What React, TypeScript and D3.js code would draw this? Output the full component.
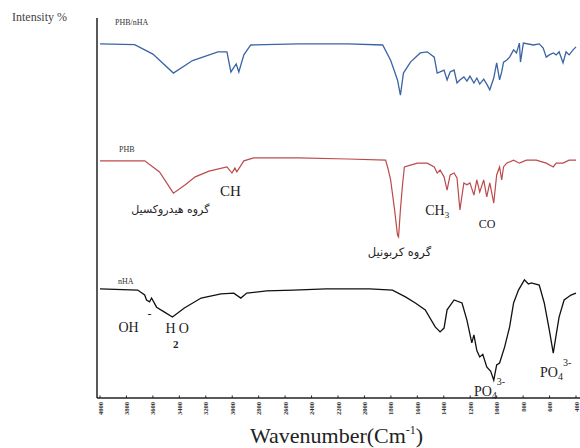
import React from "react";
import * as d3 from "d3";

// FTIR spectra, [wavenumber cm-1, intensity %] (stacked scale)
const phbNha: [number, number][] = [
  [4000, 93.2], [3738, 93.0], [3600, 90.5], [3445, 85.5], [3300, 88.8], [3108, 91.1], [3040, 91.1],
  [3010, 85.8], [2970, 87.9], [2950, 85.8], [2912, 90.3], [2860, 92.9], [2500, 93.2], [2125, 93.2],
  [1862, 92.9], [1802, 88.9], [1750, 83.7], [1728, 79.7], [1705, 85.5], [1652, 88.4], [1578, 90.8],
  [1525, 91.1], [1472, 89.7], [1450, 85.5], [1428, 85.8], [1398, 86.3], [1375, 83.7], [1352, 85.8],
  [1322, 86.3], [1300, 82.9], [1278, 83.7], [1248, 84.5], [1225, 83.4], [1202, 84.7], [1172, 82.9],
  [1150, 84.2], [1128, 82.6], [1098, 83.9], [1075, 82.6], [1052, 81.1], [1022, 84.2], [1000, 88.2],
  [978, 83.7], [962, 85.8], [948, 88.4], [925, 88.9], [902, 89.7], [872, 91.6], [850, 90.8],
  [828, 93.4], [820, 88.4], [798, 93.4], [722, 92.9], [678, 93.2], [648, 92.1], [625, 89.7],
  [602, 90.3], [572, 90.8], [550, 90.3], [528, 91.1], [498, 88.2], [475, 91.1], [452, 90.3],
  [422, 91.6], [400, 92.4],
];

const phb: [number, number][] = [
  [4000, 62.4], [3662, 62.4], [3550, 59.5], [3445, 53.9], [3355, 56.1], [3280, 58.2], [3175, 59.7],
  [3040, 60.8], [3002, 59.2], [2980, 60.5], [2965, 59.5], [2912, 62.4], [2838, 63.2], [2500, 63.2],
  [2125, 62.9], [1840, 62.6], [1825, 60.8], [1802, 57.4], [1772, 49.5], [1750, 42.9], [1742, 42.4],
  [1728, 49.5], [1712, 56.1], [1698, 60.8], [1652, 61.3], [1600, 61.8], [1525, 61.8], [1472, 60.8],
  [1450, 59.2], [1428, 60.0], [1398, 58.2], [1375, 54.7], [1352, 58.7], [1322, 59.2], [1300, 57.9],
  [1278, 49.5], [1248, 56.6], [1225, 56.1], [1202, 56.6], [1172, 53.4], [1150, 57.4], [1128, 54.2],
  [1098, 57.4], [1075, 52.9], [1052, 56.6], [1022, 51.3], [1000, 58.7], [978, 60.8], [962, 57.4],
  [948, 60.8], [925, 61.8], [872, 62.6], [828, 61.8], [775, 62.6], [700, 62.6], [625, 61.8],
  [572, 60.8], [550, 61.8], [498, 61.8], [452, 62.6], [400, 62.6],
];

const nha: [number, number][] = [
  [4000, 28.7], [3715, 28.4], [3662, 27.1], [3648, 25.8], [3625, 25.3], [3610, 26.3], [3572, 23.9],
  [3512, 22.6], [3452, 21.3], [3362, 23.7], [3235, 26.3], [3085, 27.4], [2988, 27.6], [2935, 26.3],
  [2890, 27.6], [2740, 28.2], [2538, 28.4], [2290, 28.7], [1960, 28.7], [1788, 28.4], [1690, 26.6],
  [1615, 25.0], [1540, 23.2], [1465, 18.7], [1428, 17.4], [1398, 18.4], [1375, 23.2], [1322, 25.8],
  [1262, 25.0], [1225, 20.5], [1188, 14.5], [1172, 16.6], [1150, 12.5], [1128, 10.8], [1105, 11.5],
  [1075, 8.2], [1045, 7.0], [1022, 4.7], [1000, 8.7], [978, 9.2], [940, 13.4], [902, 18.7],
  [872, 25.0], [835, 28.4], [790, 31.1], [760, 30.0], [738, 30.3], [678, 29.7], [640, 25.0],
  [602, 17.9], [572, 11.8], [550, 16.6], [528, 21.3], [490, 25.8], [438, 27.1], [400, 27.6],
];

const xTicks = d3.range(4000, 399, -200);

const W = 580;
const H = 448;
const serif = "'Liberation Serif', 'Times New Roman', serif";
const persian = "'DejaVu Sans', sans-serif";

export default function App() {
  const x = d3.scaleLinear().domain([4000, 400]).range([100, 576]);
  const y = d3.scaleLinear().domain([0, 100]).range([398, 18]);
  const line = d3
    .line<[number, number]>()
    .x((d) => x(d[0]))
    .y((d) => y(d[1]));

  return (
    <svg
      width={W}
      height={H}
      style={{ position: "absolute", left: 0, top: 0, background: "#fff" }}
    >
      {/* axes */}
      <line x1={97} x2={97} y1={18} y2={398} stroke="#222" strokeWidth={1.5} />
      <line x1={97} x2={580} y1={398} y2={398} stroke="#222" strokeWidth={1.5} />
      {xTicks.map((t) => (
        <g key={t} transform={`translate(${x(t)},398)`}>
          <line y1={0} y2={-2.5} stroke="#222" strokeWidth={1} />
          <text
            transform="translate(2.5,4) rotate(-90)"
            textAnchor="end"
            fontSize={6.5}
            fontFamily={serif}
            fontWeight="bold"
            fill="#333"
          >
            {t}
          </text>
        </g>
      ))}

      <text x={12} y={21} fontSize={12} fontFamily={serif} fill="#444">
        Intensity %
      </text>
      <text x={250} y={443} fontSize={22} fontFamily={serif} fill="#222">
        Wavenumber(Cm
        <tspan fontSize={12} dy={-9}>-1</tspan>
        <tspan dy={9}>)</tspan>
      </text>

      {/* spectra */}
      <path d={line(phbNha) ?? ""} fill="none" stroke="#3a64a3" strokeWidth={1.3} />
      <path d={line(phb) ?? ""} fill="none" stroke="#bd4a4a" strokeWidth={1.2} />
      <path d={line(nha) ?? ""} fill="none" stroke="#111" strokeWidth={1.3} />

      {/* series names */}
      <text x={115} y={25} fontSize={8} fontFamily={serif} fill="#333">PHB/nHA</text>
      <text x={119} y={152} fontSize={8} fontFamily={serif} fill="#333">PHB</text>
      <text x={118} y={284} fontSize={8} fontFamily={serif} fill="#333">nHA</text>

      {/* PHB annotations */}
      <text x={x(3468)} y={213} textAnchor="middle" fontSize={11} fontFamily={persian} fill="#222" direction="rtl">
        گروه هیدروکسیل
      </text>
      <text x={x(3092)} y={196} fontSize={15} fontFamily={serif} fill="#222">CH</text>
      <text x={x(1735)} y={256} textAnchor="middle" fontSize={11.5} fontFamily={persian} fill="#222" direction="rtl">
        گروه کربونیل
      </text>
      <text x={x(1540)} y={215} fontSize={14} fontFamily={serif} fill="#222">
        CH<tspan fontSize={9} dy={3}>3</tspan>
      </text>
      <text x={x(1135)} y={228} fontSize={12} fontFamily={serif} fill="#222">CO</text>

      {/* nHA annotations */}
      <text x={x(3860)} y={332} fontSize={14} fontFamily={serif} fill="#222">OH</text>
      <text x={x(3640)} y={318} fontSize={12} fontFamily={serif} fill="#222">-</text>
      <text x={x(3505)} y={333} fontSize={14} fontFamily={serif} fill="#222">H</text>
      <text x={x(3448)} y={348} fontSize={11} fontFamily={serif} fontWeight="bold" fill="#222">2</text>
      <text x={x(3405)} y={333} fontSize={14} fontFamily={serif} fill="#222">O</text>
      <text x={x(1172)} y={396} fontSize={14} fontFamily={serif} fill="#222">
        PO<tspan fontSize={10} dy={3}>4</tspan>
        <tspan fontSize={10} dy={-14}>3-</tspan>
      </text>
      <text x={x(672)} y={377} fontSize={14} fontFamily={serif} fill="#222">
        PO<tspan fontSize={10} dy={3}>4</tspan>
        <tspan fontSize={10} dy={-14}>3-</tspan>
      </text>
    </svg>
  );
}
